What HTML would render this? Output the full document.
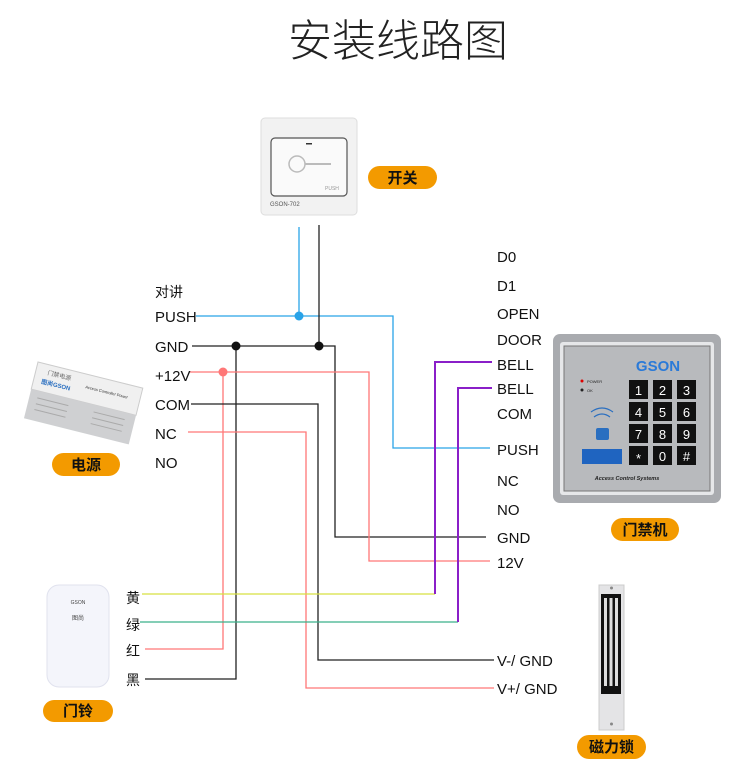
<!DOCTYPE html>
<html><head><meta charset="utf-8"><style>
html,body{margin:0;padding:0;background:#fff}
svg{display:block}
text{font-family:"Liberation Sans","Noto Sans CJK SC",sans-serif}
</style></head><body>
<svg width="750" height="768" viewBox="0 0 750 768" xmlns="http://www.w3.org/2000/svg">
<text x="398" y="56" font-size="44" text-anchor="middle" fill="#222" font-weight="300" style="font-family:'Noto Sans CJK SC',sans-serif">安装线路图</text>

<!-- switch -->
<rect x="261" y="118" width="96" height="97" rx="4" fill="#f2f2f2" stroke="#ddd"/>
<rect x="271" y="138" width="76" height="58" rx="4" fill="#fafafa" stroke="#555" stroke-width="1.2"/>
<circle cx="297" cy="164" r="8" fill="none" stroke="#bbb" stroke-width="1.5"/>
<line x1="305" y1="164" x2="331" y2="164" stroke="#bbb" stroke-width="2"/>
<rect x="306" y="143" width="6" height="1.5" fill="#333"/>
<text x="325" y="190" font-size="5" fill="#999">PUSH</text>
<text x="270" y="206" font-size="6" fill="#555">GSON-702</text>
<rect x="368" y="166" width="69" height="23" rx="11.5" fill="#f39a00"/>
<text x="402.5" y="183" font-size="15" text-anchor="middle" fill="#111" font-weight="bold">开关</text>

<!-- power supply -->
<g transform="translate(38,362) rotate(14)">
<rect x="0" y="0" width="108" height="28" fill="#f0f0f0" stroke="#ccc"/>
<rect x="0" y="28" width="108" height="30" fill="#cfd0d2"/>
<g stroke="#aaa" stroke-width="1">
<line x1="8" y1="35" x2="40" y2="35"/><line x1="8" y1="41" x2="40" y2="41"/><line x1="8" y1="47" x2="40" y2="47"/>
<line x1="66" y1="35" x2="98" y2="35"/><line x1="66" y1="41" x2="98" y2="41"/><line x1="66" y1="47" x2="98" y2="47"/>
</g>
<text x="12" y="10" font-size="6" fill="#666">门禁电源</text>
<text x="8" y="20" font-size="6" fill="#2a6fc0" font-weight="bold">图尚GSON</text>
<text x="52" y="14" font-size="4" fill="#333">Access Controller Power</text>
</g>
<rect x="52" y="453" width="68" height="23" rx="11.5" fill="#f39a00"/>
<text x="86" y="470" font-size="15" text-anchor="middle" fill="#111" font-weight="bold">电源</text>

<!-- doorbell -->
<rect x="47" y="585" width="62" height="102" rx="12" fill="#f4f5fb" stroke="#e0e2ee"/>
<text x="78" y="604" font-size="5" text-anchor="middle" fill="#444">GSON</text>
<text x="78" y="620" font-size="6" text-anchor="middle" fill="#444">图尚</text>
<rect x="43" y="700" width="70" height="22" rx="11" fill="#f39a00"/>
<text x="78" y="716" font-size="15" text-anchor="middle" fill="#111" font-weight="bold">门铃</text>

<!-- keypad -->
<rect x="553" y="334" width="168" height="169" rx="7" fill="#a9abaf"/>
<rect x="560" y="342" width="154" height="153" rx="3" fill="#e6e7e9"/>
<rect x="564" y="346" width="146" height="145" fill="#b8babd" stroke="#777"/>
<text x="658" y="371" font-size="15" text-anchor="middle" fill="#2a7ad8" font-weight="bold">GSON</text>
<circle cx="582" cy="381" r="1.5" fill="#d00"/><text x="587" y="383" font-size="4" fill="#222">POWER</text>
<circle cx="582" cy="390" r="1.5" fill="#222"/><text x="587" y="392" font-size="4" fill="#222">OK</text>
<g fill="#111">
<rect x="629" y="380" width="19" height="19"/><rect x="653" y="380" width="19" height="19"/><rect x="677" y="380" width="19" height="19"/>
<rect x="629" y="402" width="19" height="19"/><rect x="653" y="402" width="19" height="19"/><rect x="677" y="402" width="19" height="19"/>
<rect x="629" y="424" width="19" height="19"/><rect x="653" y="424" width="19" height="19"/><rect x="677" y="424" width="19" height="19"/>
<rect x="629" y="446" width="19" height="19"/><rect x="653" y="446" width="19" height="19"/><rect x="677" y="446" width="19" height="19"/>
</g>
<g fill="#fff" font-size="13" text-anchor="middle">
<text x="638.5" y="395">1</text><text x="662.5" y="395">2</text><text x="686.5" y="395">3</text>
<text x="638.5" y="417">4</text><text x="662.5" y="417">5</text><text x="686.5" y="417">6</text>
<text x="638.5" y="439">7</text><text x="662.5" y="439">8</text><text x="686.5" y="439">9</text>
<text x="638.5" y="463">*</text><text x="662.5" y="461">0</text><text x="686.5" y="461">#</text>
</g>
<path d="M591 412 Q602 404 613 412 M594 417 Q602 411 610 417" stroke="#2a6fc0" fill="none" stroke-width="1.2"/>
<rect x="596" y="428" width="13" height="12" rx="2" fill="#2a6fc0"/>
<rect x="582" y="449" width="40" height="15" fill="#1f64c0"/>
<text x="627" y="480" font-size="5.5" text-anchor="middle" fill="#222" font-weight="bold" font-style="italic">Access Control Systems</text>
<rect x="611" y="518" width="68" height="23" rx="11.5" fill="#f39a00"/>
<text x="645" y="535" font-size="15" text-anchor="middle" fill="#111" font-weight="bold">门禁机</text>

<!-- mag lock -->
<rect x="599" y="585" width="25" height="145" fill="#e4e4e6" stroke="#ccc"/>
<rect x="601" y="594" width="20" height="100" fill="#111"/>
<rect x="604" y="598" width="3" height="88" fill="#ddd"/>
<rect x="609.5" y="598" width="3" height="88" fill="#ddd"/>
<rect x="615" y="598" width="3" height="88" fill="#ddd"/>
<circle cx="611.5" cy="588" r="1.5" fill="#888"/><circle cx="611.5" cy="724" r="1.5" fill="#888"/>
<rect x="577" y="735" width="69" height="24" rx="12" fill="#f39a00"/>
<text x="611.5" y="752" font-size="15" text-anchor="middle" fill="#111" font-weight="bold">磁力锁</text>

<!-- wires -->
<g fill="none" stroke-width="1.3">
<polyline points="299,227 299,316" stroke="#29a3e8"/>
<polyline points="196,316 393,316 393,448 490,448" stroke="#29a3e8"/>
<polyline points="319,225 319,346" stroke="#222"/>
<polyline points="192,346 335,346 335,537 486,537" stroke="#222"/>
<polyline points="236,346 236,679 145,679" stroke="#222"/>
<polyline points="190,372 369,372 369,561 490,561" stroke="#f77"/>
<polyline points="223,372 223,649 145,649" stroke="#f77"/>
<polyline points="191,404 318,404 318,660 494,660" stroke="#222"/>
<polyline points="188,432 306,432 306,688 494,688" stroke="#f77"/>
<polyline points="142,594 435,594" stroke="#d8e040"/>
<polyline points="140,622 458,622" stroke="#3ab08a"/>
<polyline points="492,362 435,362 435,594" stroke="#8a1fc8" stroke-width="2"/>
<polyline points="492,388 458,388 458,622" stroke="#8a1fc8" stroke-width="2"/>
</g>
<circle cx="299" cy="316" r="4.5" fill="#29a3e8"/>
<circle cx="236" cy="346" r="4.5" fill="#111"/>
<circle cx="319" cy="346" r="4.5" fill="#111"/>
<circle cx="223" cy="372" r="4.5" fill="#f77"/>

<g font-size="15" fill="#111">
<text x="155" y="297" font-size="14">对讲</text>
<text x="155" y="322">PUSH</text>
<text x="155" y="352">GND</text>
<text x="155" y="381">+12V</text>
<text x="155" y="410">COM</text>
<text x="155" y="439">NC</text>
<text x="155" y="468">NO</text>
<text x="497" y="262">D0</text>
<text x="497" y="291">D1</text>
<text x="497" y="319">OPEN</text>
<text x="497" y="345">DOOR</text>
<text x="497" y="370">BELL</text>
<text x="497" y="394">BELL</text>
<text x="497" y="419">COM</text>
<text x="497" y="455">PUSH</text>
<text x="497" y="486">NC</text>
<text x="497" y="515">NO</text>
<text x="497" y="543">GND</text>
<text x="497" y="568">12V</text>
<text x="497" y="666">V-/ GND</text>
<text x="497" y="694">V+/ GND</text>
<text x="126" y="603" font-size="14">黄</text>
<text x="126" y="630" font-size="14">绿</text>
<text x="126" y="656" font-size="14">红</text>
<text x="126" y="685" font-size="14">黑</text>
</g>
</svg>
</body></html>
